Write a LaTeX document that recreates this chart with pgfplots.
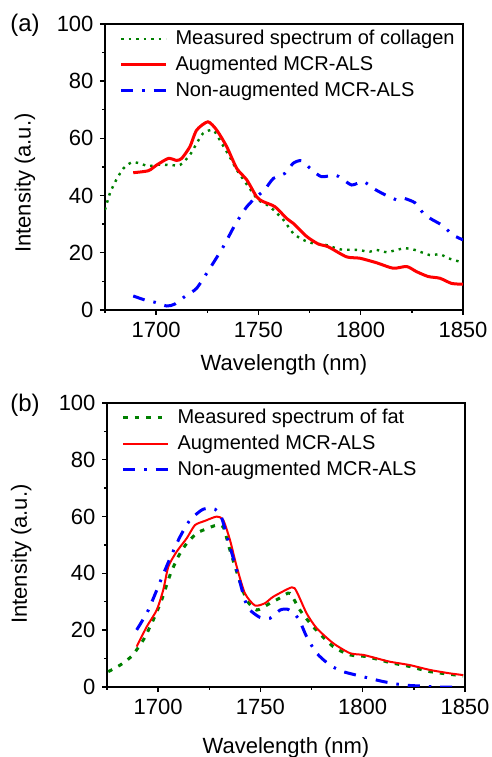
\documentclass[border=0pt]{standalone}
\usepackage{fontspec}
\setmainfont{Liberation Sans}
\usepackage{pgfplots}
\pgfplotsset{compat=1.18}
\definecolor{dgreen}{RGB}{0,128,0}

\pgfplotsset{
  spec/.style={
    scale only axis, width=358pt,
    xmin=1675, xmax=1850, ymin=0, ymax=100,
    xtick={1700,1750,1800,1850}, minor xtick={1675,1725,1775,1825},
    ytick={0,20,...,100}, minor ytick={10,30,50,70,90},
    tick align=outside, xtick pos=bottom, ytick pos=left,
    major tick length=5pt, minor tick length=3pt,
    axis line style={line width=1.6pt},
    every tick/.style={black, line width=1.4pt},
    /pgf/number format/assume math mode=true,
    /pgf/number format/1000 sep={},
    tick label style={font=\fontsize{22}{26}\selectfont},
    xticklabel style={yshift=-4pt},
    yticklabel style={xshift=-3pt},
    label style={font=\fontsize{22}{26}\selectfont},
    xlabel={Wavelength (nm)}, ylabel={Intensity (a.u.)},
    legend cell align=left,
    legend style={draw=none, fill=none, inner sep=0pt,
      font=\fontsize{20}{24}\selectfont,
      anchor=north west, at={(axis description cs:0.04,0.99)},
      nodes={inner sep=2pt, text height=15pt, text depth=4.5pt},
      /tikz/every odd column/.append style={column sep=6pt},
      row sep=2.5pt},
    legend image code/.code={\draw[#1] (0pt,0pt) -- (45pt,0pt);},
  },
  meas/.style={dgreen, line width=2.4pt, dash pattern=on 2.5pt off 5pt},
  aug/.style={red, line width=3pt},
  nonaug/.style={blue, line width=3pt, dash pattern=on 12pt off 9pt on 2.5pt off 9pt},
}

\begin{document}
\begin{tikzpicture}

\node at (25pt,732pt) {\fontsize{24}{28}\selectfont (a)};
\node at (25pt,352pt) {\fontsize{24}{28}\selectfont (b)};

% (a) collagen
\begin{axis}[spec, at={(105pt,447pt)}, anchor=south west, height=286pt,
  xlabel style={at={(axis description cs:0.5,-0.192)}, anchor=center},
  ylabel style={at={(axis description cs:-0.2235,0.444)}, anchor=center}]
\addplot[meas, smooth, tension=0.4] coordinates {
(1675,35) (1677.4,40.8) (1680.5,45.5) (1684,49.5) (1688,51.6) (1692,51.3)
(1696,50.3) (1701,50.8) (1706.8,50.7) (1711.7,50.7) (1716.5,54.2)
(1720,58.5) (1723,61.8) (1727.9,62.9) (1732,58.3) (1736,53.5)
(1739.4,49) (1745.9,42.3) (1749.9,38.5) (1755.6,36.1) (1762.2,31.5)
(1767,26.8) (1771.9,24.5) (1776.8,23.3) (1783.3,22.7) (1789.9,21.2)
(1798,21) (1804.5,20.4) (1807.8,21) (1812.7,20.2) (1817.6,21)
(1821.6,21.6) (1826.5,21) (1833.8,19.2) (1838.7,19.5) (1842.8,18.1)
(1846.9,17.2) (1850,16.5)};
\addlegendentry{Measured spectrum of collagen}
\addplot[aug, smooth, tension=0.4] coordinates {
(1688.8,48) (1696.2,48.7) (1700.3,50.7) (1706,53) (1710,52.3)
(1712.5,53) (1716.5,57.1) (1719.8,62.9) (1725.3,65.8) (1729.6,62.9)
(1734.5,57.1) (1739.4,49.5) (1744.3,45.5) (1749.1,39.6) (1752,38)
(1758.1,36.1) (1763.8,32) (1767,30.3) (1773.6,25.7) (1779.2,23.1)
(1784.1,22.1) (1793,18.6) (1799.6,18.1) (1807.8,16.5) (1815.9,14.6)
(1822.5,15.2) (1827.3,13.4) (1833,11.7) (1838.7,11.1) (1844.4,9.3)
(1850,9)};
\addlegendentry{Augmented MCR-ALS}
\addplot[nonaug, smooth, tension=0.4] coordinates {
(1688.8,4.9) (1694.5,3.5) (1699.4,2.7) (1705.2,1.4) (1709.2,2.1)
(1714.9,5.2) (1719.8,7.6) (1726.3,14.6) (1732.8,22.1) (1738.5,29.7)
(1744.3,36.1) (1749.1,39.6) (1753,42) (1757.3,46) (1763,47.8)
(1767,51.3) (1771.1,52.2) (1776,49) (1780.9,46.6) (1787.4,47.2)
(1790.7,46) (1795.6,43.7) (1801.3,44.9) (1806.2,42.5) (1811,40.6)
(1817.6,38.5) (1820.8,39.1) (1826.5,37.5) (1830.6,33.8) (1834.7,31.7)
(1839.6,29.7) (1845.2,26.2) (1850,24.5)};
\addlegendentry{Non-augmented MCR-ALS}
\end{axis}

% (b) fat
\begin{axis}[spec, at={(107pt,70pt)}, anchor=south west, height=284pt,
  meas/.style={dgreen, line width=3pt, dash pattern=on 4.5pt off 7pt},
  aug/.style={red, line width=2pt},
  xlabel style={at={(axis description cs:0.5,-0.215)}, anchor=center},
  ylabel style={at={(axis description cs:-0.24,0.468)}, anchor=center}]
\addplot[meas, smooth, tension=0.4] coordinates {
(1675.6,5.4) (1681.4,7.7) (1687.1,10.9) (1692.7,16.5) (1697.6,23.6)
(1701.7,30.6) (1705.8,39.4) (1709.8,45.9) (1714,50.6) (1718.8,54.1)
(1722.9,55.5) (1728.6,57) (1731.8,56.4) (1735.1,48.2) (1739.2,38.8)
(1743.3,30.6) (1748.2,27.1) (1754.7,29.5) (1760,31.5) (1764.4,33)
(1769.3,27.1) (1775.8,21.2) (1785.6,14.2) (1793.8,11.3) (1801.9,10.7)
(1813.3,8.6) (1823.1,7.2) (1832.9,5.4) (1849.1,3.9)};
\addlegendentry{Measured spectrum of fat}
\addplot[aug, smooth, tension=0.4] coordinates {
(1689.5,14.2) (1694.4,21.2) (1699.3,27.1) (1702.5,34.2) (1705,42.4)
(1709,47.6) (1714,52.4) (1718,57) (1722.9,58.5) (1728.6,60)
(1731.8,58.8) (1735.1,51.8) (1738.4,42.4) (1742.4,33) (1747.3,28.7)
(1752.2,29.5) (1756.3,31.8) (1765.3,35.1) (1767.7,33.6) (1772.6,25.9)
(1777.5,20.7) (1785.6,15.4) (1793.8,11.9) (1800.3,11.3) (1806.8,10.1)
(1813.3,8.9) (1823.1,7.7) (1832.9,6) (1842.6,4.8) (1849.1,4.2)};
\addlegendentry{Augmented MCR-ALS}
\addplot[nonaug, smooth, tension=0.4] coordinates {
(1689.5,20.1) (1695.2,27.1) (1701.7,38.3) (1705.8,45.3) (1710.7,52.9)
(1715.6,58.8) (1722,62.6) (1727.8,62.6) (1731.1,59.4) (1735.1,49.4)
(1738.4,41.2) (1742.4,30.6) (1744.9,27.1) (1749.8,24.5) (1754.7,24.2)
(1759.6,27.1) (1763.6,27.3) (1768.5,24.2) (1772.6,17.7) (1777.5,11.9)
(1784,7.7) (1790.5,5.4) (1800.3,3.6) (1810.1,1.9) (1819.9,0.7)
(1828,0.35) (1836.1,0) (1847.5,0)};
\addlegendentry{Non-augmented MCR-ALS}
\end{axis}

\pgfresetboundingbox
\path[use as bounding box] (0pt,0pt) rectangle (491pt,757pt);
\end{tikzpicture}
\end{document}
